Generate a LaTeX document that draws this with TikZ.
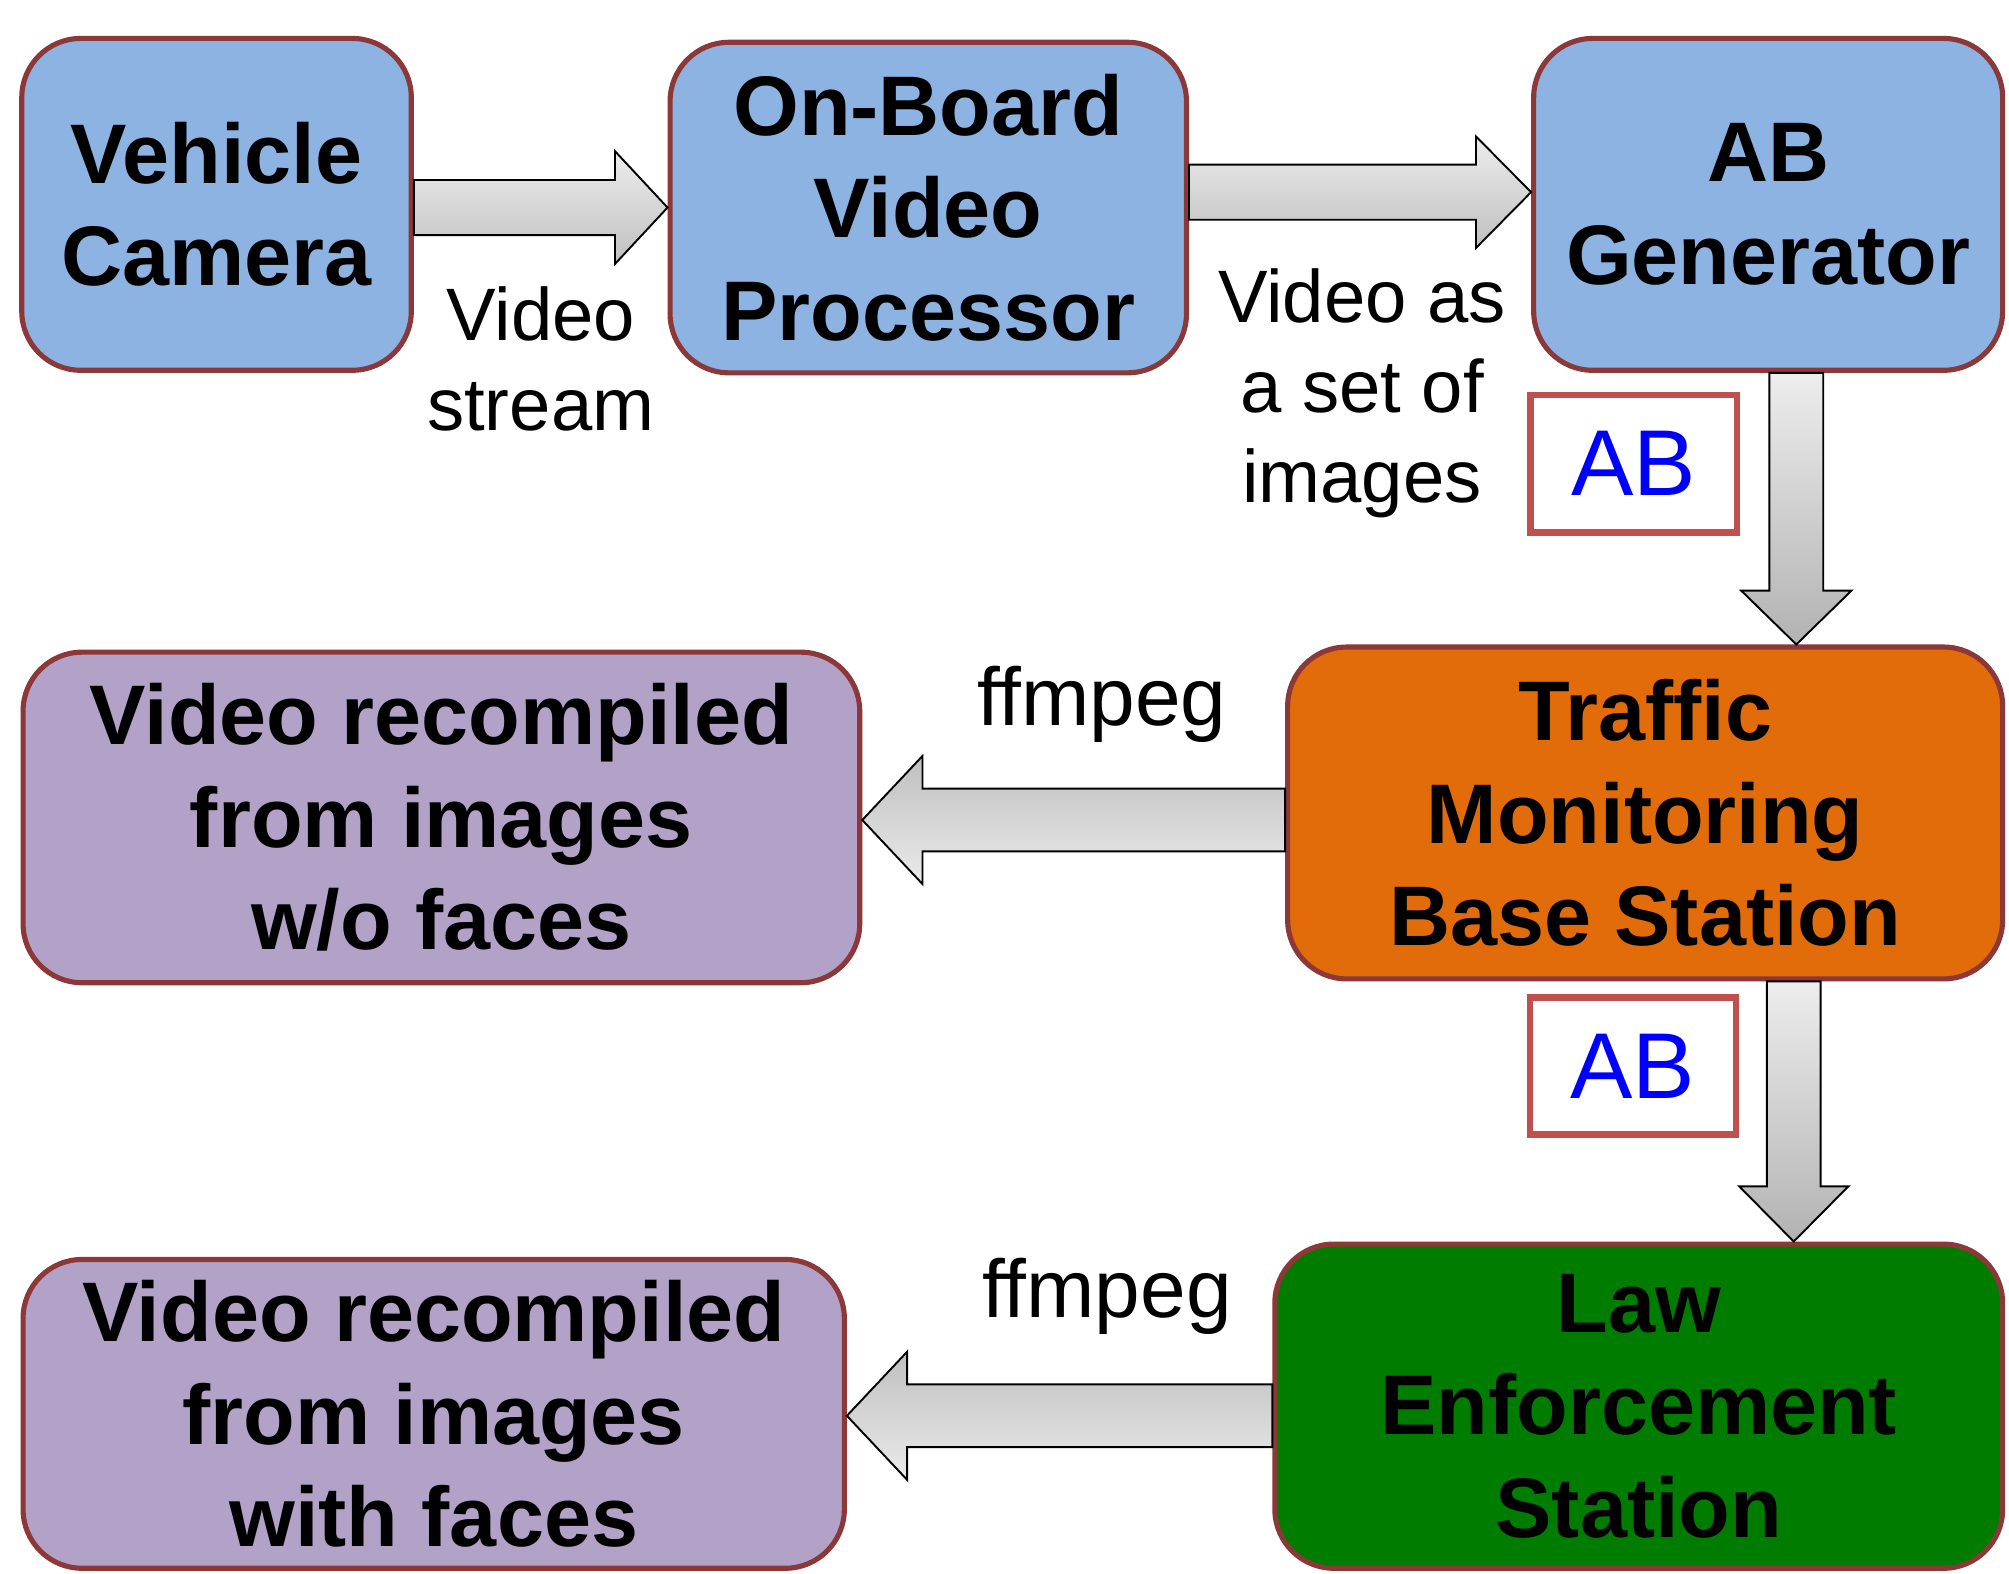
\documentclass[tikz,border=0pt]{standalone}
\usepackage{fontspec}
\setmainfont{Liberation Sans}
\usetikzlibrary{calc}

\definecolor{boxblue}{RGB}{141,179,226}
\definecolor{boxorange}{RGB}{227,108,10}
\definecolor{boxpurple}{RGB}{178,162,199}
\definecolor{boxgreen}{RGB}{0,124,0}
\definecolor{rim}{RGB}{140,56,56}
\definecolor{tagrim}{RGB}{192,80,77}

\tikzset{
  stage/.style={draw=rim, line width=4pt, rounded corners=46pt, align=center,
    inner sep=0pt, font=\fontsize{66}{80}\selectfont\bfseries},
  note/.style={align=center, inner sep=0pt, font=\fontsize{58}{70}\selectfont},
  tag/.style={draw=tagrim, line width=5pt, fill=white, text=blue, inner sep=0pt,
    minimum width=161pt, minimum height=107pt, font=\fontsize{73}{80}\selectfont},
  flow/.style={draw=black, line width=1.5pt, line join=miter},
}

% block arrows between two nodes: from, to, axis position, shaft half width,
% head half width, head length
\newcommand\flowright[6]{%
  \coordinate (fs) at (#1.east |- 0,#3);
  \coordinate (fe) at (#2.west |- 0,#3);
  \shadedraw[flow, top color=black!7, bottom color=black!25]
    ($(fs)+(0,#4)$) -- ($(fe)+(-#6,#4)$) -- ($(fe)+(-#6,#5)$) -- (fe)
    -- ($(fe)+(-#6,-#5)$) -- ($(fe)+(-#6,-#4)$) -- ($(fs)+(0,-#4)$) -- cycle;}
\newcommand\flowleft[6]{%
  \coordinate (fs) at (#1.west |- 0,#3);
  \coordinate (fe) at (#2.east |- 0,#3);
  \shadedraw[flow, top color=black!25, bottom color=black!8]
    ($(fs)+(0,#4)$) -- ($(fe)+(#6,#4)$) -- ($(fe)+(#6,#5)$) -- (fe)
    -- ($(fe)+(#6,-#5)$) -- ($(fe)+(#6,-#4)$) -- ($(fs)+(0,-#4)$) -- cycle;}
\newcommand\flowdown[6]{%
  \coordinate (fs) at (#1.south -| #3,0);
  \coordinate (fe) at (#2.north -| #3,0);
  \shadedraw[flow, top color=black!7, bottom color=black!30]
    ($(fs)+(-#4,0)$) -- ($(fe)+(-#4,#6)$) -- ($(fe)+(-#5,#6)$) -- (fe)
    -- ($(fe)+(#5,#6)$) -- ($(fe)+(#4,#6)$) -- ($(fs)+(#4,0)$) -- cycle;}

\begin{document}
\begin{tikzpicture}[x=1pt, y=1pt]
  \useasboundingbox (0,0) rectangle (1568,-1228);
  \clip (0,0) rectangle (1568,-1228);
  \fill[white] (0,0) rectangle (1568,-1228);

  % processing stages
  \node[stage, fill=boxblue, minimum width=304pt, minimum height=259pt]
    (cam) at (169,-159.5) {Vehicle\\Camera};
  \node[stage, fill=boxblue, minimum width=403pt, minimum height=258pt]
    (obv) at (724.5,-162) {On-Board\\Video\\Processor};
  \node[stage, fill=boxblue, minimum width=366pt, minimum height=259pt]
    (abg) at (1380,-159.5) {AB\\Generator};
  \node[stage, fill=boxorange, minimum width=558pt, minimum height=259pt]
    (tmb) at (1284,-634.5) {Traffic\\Monitoring\\Base Station};
  \node[stage, fill=boxpurple, minimum width=653pt, minimum height=258pt]
    (vnf) at (344.5,-638) {Video recompiled\\from images\\w/o faces};
  \node[stage, fill=boxgreen, minimum width=568pt, minimum height=253pt]
    (law) at (1279,-1097.5) {Law\\Enforcement\\Station};
  \node[stage, fill=boxpurple, minimum width=641pt, minimum height=241pt]
    (vwf) at (338.5,-1103.5) {Video recompiled\\from images\\with faces};

  % data passed along the chain
  \flowright{cam}{obv}{-162}{21.5}{44}{41}
  \flowright{obv}{abg}{-150}{21.5}{43.5}{43}
  \flowdown{abg}{tmb}{1402}{21}{43}{42}
  \flowleft{tmb}{vnf}{-640}{24.5}{50}{47}
  \flowdown{tmb}{law}{1400}{21}{42.5}{43}
  \flowleft{law}{vwf}{-1105}{24.5}{50}{47}

  % labels
  \node[note] (lstream) at (422,-280) {Video\\stream};
  \node[note] (limages) at (1063,-307) {Video as\\a set of\\images};
  \node[note, font=\fontsize{64}{70}\selectfont] (lff1) at (860,-550) {ffmpeg};
  \node[note, font=\fontsize{64}{70}\selectfont] (lff2) at (864,-1012) {ffmpeg};
  \node[tag] (tag1) at (1275,-362) {AB};
  \node[tag] (tag2) at (1274.5,-832) {AB};
\end{tikzpicture}
\end{document}
